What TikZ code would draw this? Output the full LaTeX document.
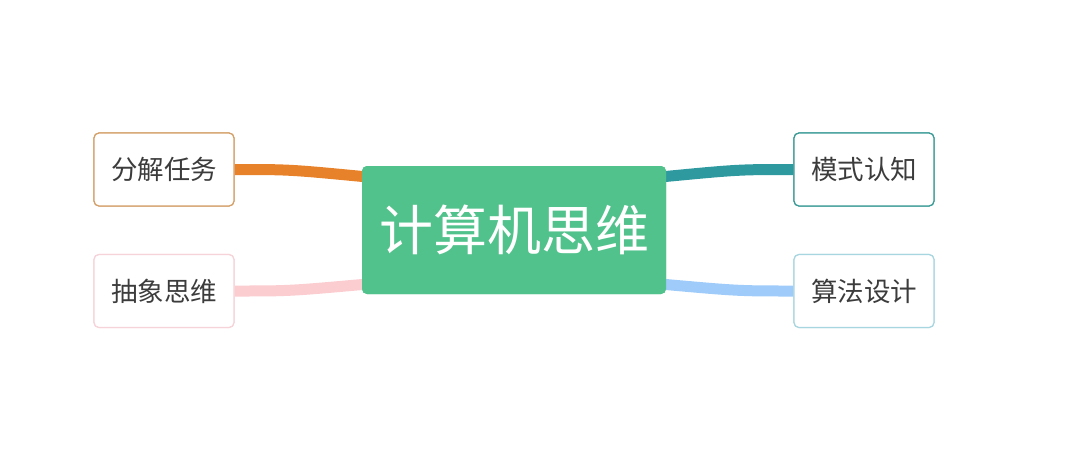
\documentclass[tikz,border=0pt]{standalone}
\usepackage{fontspec}
\setmainfont{Noto Sans CJK SC}
\begin{document}
\begin{tikzpicture}[x=1pt,y=-1pt,
  leaf/.style={draw, line width=1.2pt, rounded corners=5pt, fill=white, minimum width=140pt, minimum height=73pt, inner sep=0pt, text=textgray, font=\fontsize{26.5}{26.5}\selectfont},
  root/.style={fill=cgreen, rounded corners=5pt, minimum width=304pt, minimum height=128pt, inner sep=0pt, text=white, font=\fontsize{54}{54}\selectfont},
  link/.style={line width=11pt}]
\definecolor{textgray}{HTML}{3C3C3C}
\definecolor{cgreen}{HTML}{52C28C}
\definecolor{corange}{HTML}{E8822A}
\definecolor{cpink}{HTML}{FBCDD0}
\definecolor{cteal}{HTML}{2E9AA0}
\definecolor{cblue}{HTML}{9ECBFA}
\definecolor{borange}{HTML}{D4A06A}
\definecolor{bpink}{HTML}{F5D3D8}
\definecolor{bteal}{HTML}{3A9A96}
\definecolor{bblue}{HTML}{A8D6E0}
\useasboundingbox (0,0) rectangle (1080,459);
\node[root] (c) at (514,230) {计算机思维};
\node[leaf, draw=borange] (a) at (164,169.5) {分解任务};
\node[leaf, draw=bpink] (b) at (164,291) {抽象思维};
\node[leaf, draw=bteal] (d) at (864,169.5) {模式认知};
\node[leaf, draw=bblue] (e) at (864,291) {算法设计};
\coordinate (ca) at ([xshift=6pt,yshift=53pt]c.west);
\coordinate (cb) at ([xshift=6pt,yshift=-54pt]c.west);
\coordinate (cd) at ([xshift=-6pt,yshift=53pt]c.east);
\coordinate (ce) at ([xshift=-6pt,yshift=-54pt]c.east);
\draw[link, corange] (a.east) .. controls ([xshift=55pt]a.east) .. (ca);
\draw[link, cpink] (b.east) .. controls ([xshift=55pt]b.east) .. (cb);
\draw[link, cteal] (d.west) .. controls ([xshift=-55pt]d.west) .. (cd);
\draw[link, cblue] (e.west) .. controls ([xshift=-55pt]e.west) .. (ce);
\node[root] at (c.center) {计算机思维};
\node[leaf, draw=borange] at (a.center) {分解任务};
\node[leaf, draw=bpink] at (b.center) {抽象思维};
\node[leaf, draw=bteal] at (d.center) {模式认知};
\node[leaf, draw=bblue] at (e.center) {算法设计};
\end{tikzpicture}
\end{document}
